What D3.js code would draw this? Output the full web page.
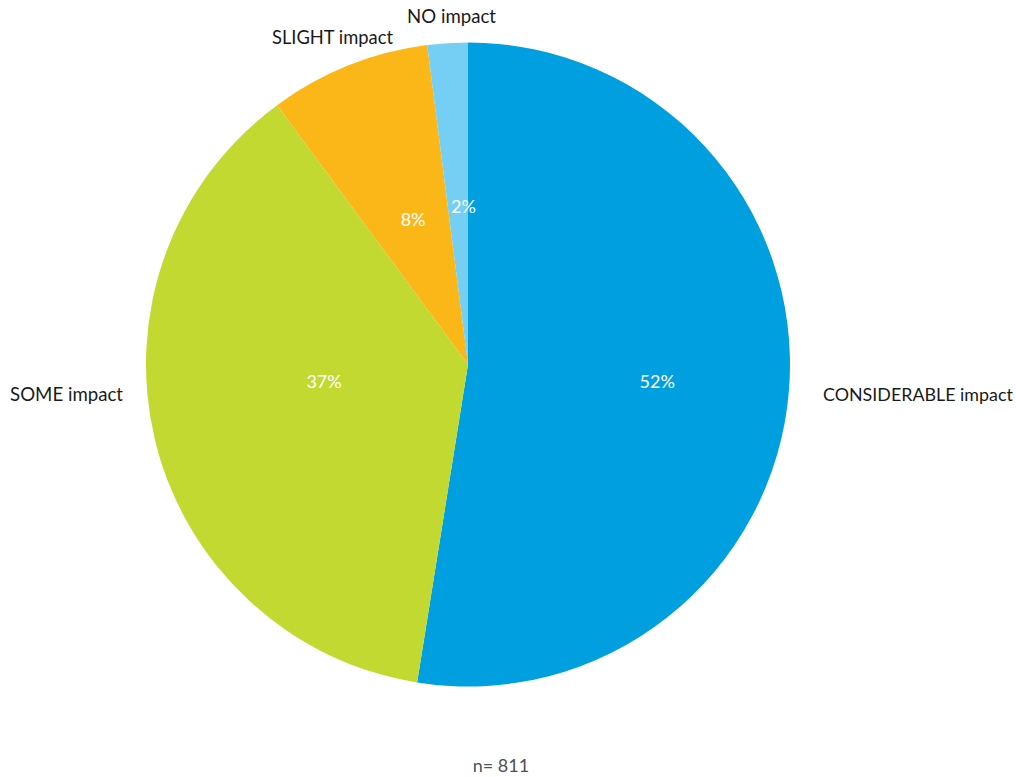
<!DOCTYPE html>
<html>
<head>
<meta charset="utf-8">
<script src="https://cdn.jsdelivr.net/npm/d3@7"></script>
<style>
  html, body { margin: 0; padding: 0; background: #fff; }
  svg { display: block; }
  text { font-family: Lato, "Open Sans", sans-serif; }
</style>
</head>
<body>
<svg id="chart" width="1016" height="777"></svg>
<script>
// Impact ratings (share of respondents, %)
const categories = ["CONSIDERABLE impact", "SOME impact", "SLIGHT impact", "NO impact"];
const values = [52, 37, 8, 2];
const colors = ["#009FDF", "#C2D932", "#FBB718", "#75CFF5"];
const sampleNote = "n= 811";

const width = 1016, height = 777;
const cx = 468, cy = 364.5, radius = 322;

const svg = d3.select("#chart");
const g = svg.append("g").attr("transform", `translate(${cx},${cy})`);

const pie = d3.pie().sort(null).value(d => d.value);
const arcs = pie(categories.map((c, i) => ({ name: c, value: values[i], color: colors[i] })));

const arc = d3.arc().innerRadius(0).outerRadius(radius);

g.selectAll("path.slice")
  .data(arcs)
  .join("path")
  .attr("class", "slice")
  .attr("d", arc)
  .attr("fill", d => d.data.color);

// Percentage labels inside the slices (radius fraction, angle nudge in degrees)
const innerPlacement = [
  { r: 0.59, da: 0.5 },
  { r: 0.45, da: 7 },
  { r: 0.48, da: 1 },
  { r: 0.49, da: 2 }
];
g.selectAll("text.pct")
  .data(arcs)
  .join("text")
  .attr("class", "pct")
  .attr("transform", (d, i) => {
    const p = innerPlacement[i];
    const a = (d.startAngle + d.endAngle) / 2 + p.da * Math.PI / 180;
    const r = radius * p.r;
    return `translate(${r * Math.sin(a)},${-r * Math.cos(a)})`;
  })
  .attr("text-anchor", "middle")
  .attr("dy", "0.35em")
  .attr("fill", "#fff")
  .style("font-size", "18px")
  .text(d => d.data.value + "%");

// Category labels outside the pie; each sized to its box width
const outerPlacement = [
  { x: 823, y: 395, w: 190, anchor: "start" },
  { x: 123, y: 394, w: 113, anchor: "end" },
  { x: 393, y: 38, w: 121, anchor: "end" },
  { x: 496, y: 16, w: 89, anchor: "end" }
];
svg.selectAll("text.cat")
  .data(arcs)
  .join("text")
  .attr("class", "cat")
  .attr("x", (d, i) => outerPlacement[i].x)
  .attr("y", (d, i) => outerPlacement[i].y)
  .attr("dy", "0.35em")
  .attr("text-anchor", (d, i) => outerPlacement[i].anchor)
  .attr("fill", "#1a1a1a")
  .style("font-size", "19px")
  .text(d => d.data.name)
  .each(function (d, i) {
    const len = this.getComputedTextLength();
    const size = Math.min(19, 19 * outerPlacement[i].w / len);
    d3.select(this).style("font-size", size.toFixed(2) + "px");
  });

svg.append("text")
  .attr("x", 501)
  .attr("y", 766)
  .attr("dy", "0.35em")
  .attr("text-anchor", "middle")
  .attr("fill", "#505050")
  .style("font-size", "18px")
  .text(sampleNote);
</script>
</body>
</html>
